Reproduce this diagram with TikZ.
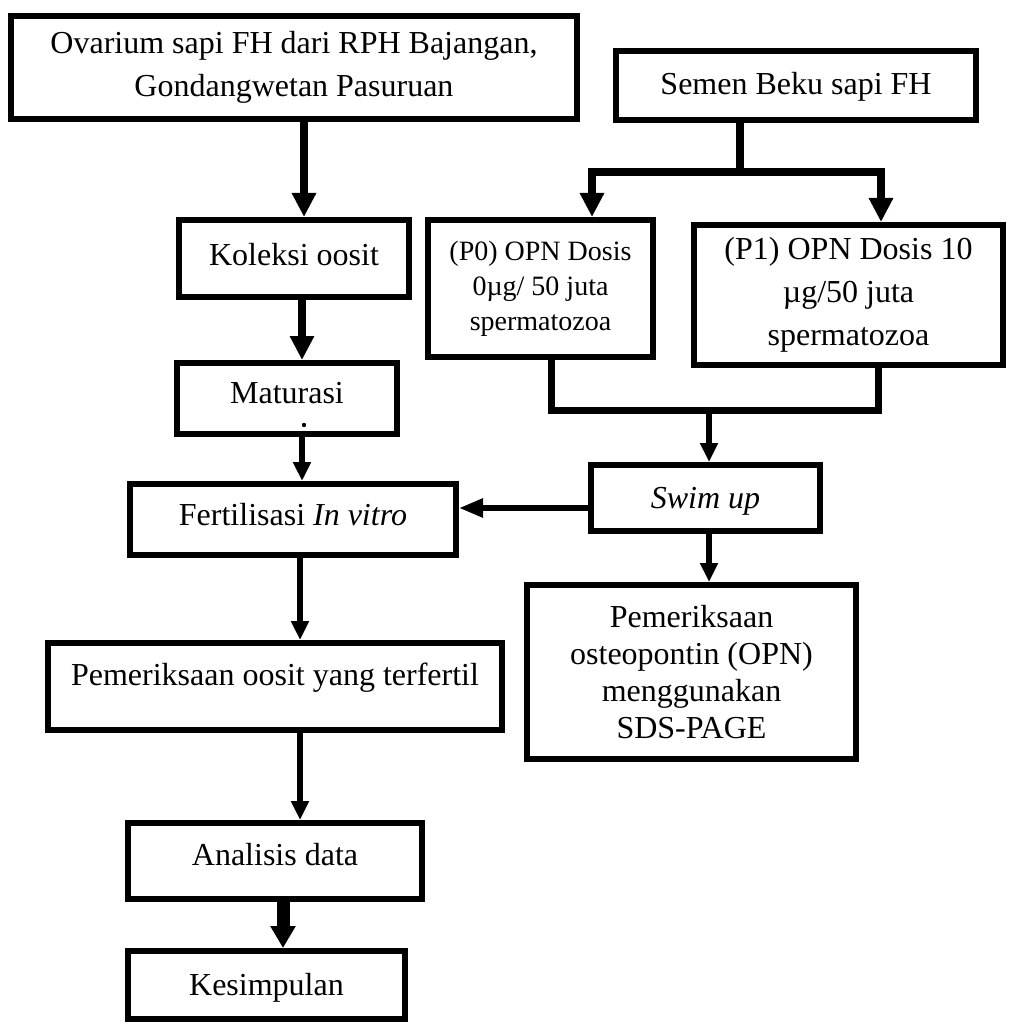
\documentclass[tikz,border=0pt]{standalone}
\usepackage{fontspec}
\setmainfont{Liberation Serif}
\usetikzlibrary{arrows.meta,calc}
\begin{document}
\begin{tikzpicture}[x=0.5pt,y=-0.5pt,
  box/.style={draw, line width=3pt, inner sep=0pt, align=center,
    font=\fontsize{16}{21.5}\selectfont},
  oneline/.style={text height=11pt, text depth=#1},
  oneline/.default=3.5pt,
  small/.style={font=\fontsize{14}{17.5}\selectfont},
  tight/.style={font=\fontsize{16}{18.5}\selectfont},
  flow/.style={line width=4pt, -{Triangle[length=12pt,width=11.5pt]}},
  thin flow/.style={line width=2.8pt, -{Triangle[length=9.5pt,width=8.5pt]}},
  link/.style={line width=3.5pt},
]
\fill[white] (0,0) rectangle (1009,1026);

% left column
\node[box, minimum width=283pt, minimum height=51.5pt] (ov) at (294,67.5)
  {Ovarium sapi FH dari RPH Bajangan,\\Gondangwetan Pasuruan};
\node[box, oneline=4pt, minimum width=115pt, minimum height=38.5pt] (kol) at (294,258.5) {Koleksi oosit};
\node[box, oneline=6pt, minimum width=110pt, minimum height=35.5pt] (mat) at (287,398.5) {Maturasi};
\fill ($(mat.south)+(17,-12)$) circle (1.1pt);
\node[box, oneline=5pt, minimum width=163pt, minimum height=35.5pt] (fer) at (293,519.5) {Fertilisasi \textit{In vitro}};
\node[box, oneline=12pt, minimum width=227pt, minimum height=43.5pt] (poo) at (275,686.5) {Pemeriksaan oosit yang terfertil};
\node[box, oneline=6.5pt, minimum width=147pt, minimum height=38pt] (ana) at (275,861) {Analisis data};
\node[box, oneline=0.5pt, minimum width=138.5pt, minimum height=34pt] (kes) at (266.5,985) {Kesimpulan};

% right column
\node[box, oneline=2pt, minimum width=180pt, minimum height=34.5pt] (sem) at (796,85.5) {Semen Beku sapi FH};
\node[box, small, minimum width=112.5pt, minimum height=68.5pt] (p0) at (540.5,288.5)
  {(P0) OPN Dosis\\0µg/ 50 juta\\spermatozoa};
\node[box, minimum width=154.5pt, minimum height=70pt] (p1) at (848.5,295)
  {(P1) OPN Dosis 10\\µg/50 juta\\spermatozoa};
\node[box, oneline=0.5pt, minimum width=114.5pt, minimum height=33pt] (swim) at (705.5,498) {\textit{Swim up}};
\node[box, tight, minimum width=164.5pt, minimum height=87pt] (opn) at (691.5,672)
  {Pemeriksaan\\osteopontin (OPN)\\menggunakan\\SDS-PAGE};

% junction points
\coordinate (split) at (740,172);
\coordinate (join) at (709,410);

% connectors
\draw[flow] (ov.south -| 304,0) -- (kol.north -| 304,0);
\draw[flow] (kol.south -| 302,0) -- (mat.north -| 302,0);
\draw[thin flow] (mat.south -| 302,0) -- (fer.north -| 302,0);
\draw[thin flow] (fer.south -| 300,0) -- (poo.north -| 300,0);
\draw[thin flow] (poo.south -| 300,0) -- (ana.north -| 300,0);
\draw[line width=6.5pt, -{Triangle[length=11pt,width=12pt]}] (ana.south -| 283,0) -- (kes.north -| 283,0);

\draw[flow, -] (sem.south -| split) -- (split);
\draw[flow] (split) -| (p0.north -| 592,0);
\draw[flow] (split) -| (p1.north -| 881,0);

\draw[link] (p0.south -| 551,0) |- (join);
\draw[link] (p1.south -| 878,0) |- (join);
\draw[thin flow] (join) -- (swim.north -| join);
\draw[line width=2.8pt, -{Triangle[length=12pt,width=9pt]}] (swim.west |- 0,508) -- (fer.east |- 0,508);
\draw[thin flow] (swim.south -| join) -- (opn.north -| join);
\end{tikzpicture}
\end{document}
